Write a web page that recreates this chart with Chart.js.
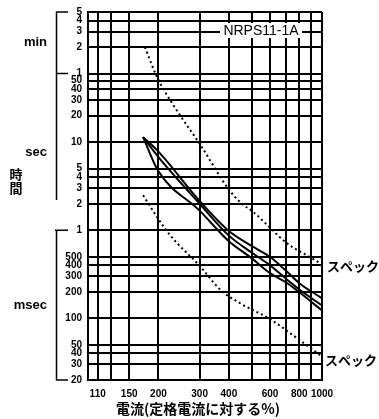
<!DOCTYPE html>
<html>
<head>
<meta charset="utf-8">
<script src="https://cdn.jsdelivr.net/npm/chart.js@4/dist/chart.umd.min.js"></script>
<style>
  html, body { margin: 0; padding: 0; background: #fff; }
  #wrap { width: 379px; height: 419px; }
</style>
</head>
<body>
<div id="wrap"><canvas id="trip"></canvas></div>
<script>
// current, % of rated current
var bandX      = [172, 200, 300, 400, 500, 600, 700, 800, 1000];
// operating time, ms
var bandUpper  = [11400, 7800, 2150, 980, 665, 497, 350, 251, 169];
var bandMiddle = [11400, 6760, 2000, 870, 560, 400, 283, 213, 140];
var bandLower  = [11400, 4670, 1670, 750, 483, 326, 257, 198, 123];

// spec limits (dotted)
var specHighX = [175, 197, 210, 248, 300, 400, 450, 510, 710, 920, 970];
var specHighY = [120000, 55000, 40000, 20000, 9600, 2900, 2050, 1600, 710, 470, 430];
var specLowX  = [172, 200, 225, 300, 370, 450, 600, 780, 985];
var specLowY  = [2500, 1340, 870, 395, 208, 147, 98, 60, 38];

var xTicks  = [110, 125, 150, 200, 300, 400, 500, 600, 700, 800, 900, 1000];
var xLabels = ['110', '', '150', '200', '300', '400', '', '600', '', '800', '', '1000'];

var yTicks  = [20, 30, 40, 50, 100, 200, 300, 400, 500,
               1000, 2000, 3000, 4000, 5000, 10000, 20000, 30000, 40000, 50000,
               60000, 120000, 180000, 240000, 300000];
var yLabels = ['20', '30', '40', '50', '100', '200', '300', '400', '500',
               '1', '2', '3', '4', '5', '10', '20', '30', '40', '50',
               '1', '2', '3', '4', '5'];

var pts = function(xs, ys) {
  return xs.map(function(x, i) { return {x: x, y: ys[i]}; });
};

var tickFont = {family: "'Liberation Sans', Arial, sans-serif", weight: 'bold', size: 10};

var solid = function(data) {
  return {data: data, borderColor: '#000', borderWidth: 2, pointRadius: 0, fill: false,
          cubicInterpolationMode: 'monotone'};
};
var dotted = function(data) {
  return {data: data, borderColor: '#000', borderWidth: 2, borderDash: [2, 3], pointRadius: 0, fill: false,
          cubicInterpolationMode: 'monotone'};
};

// bracket, unit names, titles and the model tag
var decor = {
  id: 'decor',
  afterDraw: function(chart) {
    var c = chart.ctx, ys = chart.scales.y, a = chart.chartArea;
    var top = ys.getPixelForValue(300000), minSec = ys.getPixelForValue(60000);
    var secMs = ys.getPixelForValue(1000), bot = ys.getPixelForValue(20);
    c.save();
    c.strokeStyle = '#000';
    c.lineWidth = 1.5;
    c.beginPath();
    c.moveTo(68, top); c.lineTo(56.5, top); c.lineTo(56.5, 200);
    c.moveTo(56.5, secMs); c.lineTo(56.5, bot); c.lineTo(68, bot);
    c.moveTo(56.5, minSec); c.lineTo(68, minSec);
    c.moveTo(55, secMs); c.lineTo(68, secMs);
    c.stroke();

    c.fillStyle = '#000';
    c.font = "bold 13px 'Liberation Sans', Arial, sans-serif";
    c.textAlign = 'right';
    c.textBaseline = 'middle';
    c.fillText('min', 47, (top + minSec) / 2);
    c.fillText('sec', 47, (minSec + secMs) / 2);
    c.fillText('msec', 47, (secMs + bot) / 2);

    c.textAlign = 'center';
    c.font = "bold 13px 'Noto Sans CJK JP', sans-serif";
    c.fillText('時', 16, 174);
    c.fillText('間', 16, 188);

    c.font = "bold 14px 'Noto Sans CJK JP', sans-serif";
    c.fillText('電流(定格電流に対する%)', 198, 409);

    c.fillStyle = '#fff';
    c.fillRect(220, 23, 82, 15);
    c.fillStyle = '#000';
    c.font = "14px 'Liberation Sans', Arial, sans-serif";
    c.fillText('NRPS11-1A', 261, 31);

    c.textAlign = 'left';
    c.font = "bold 13px 'Noto Sans CJK JP', sans-serif";
    c.fillText('スペック', a.right + 5, ys.getPixelForValue(specHighY[specHighY.length - 1]) + 3);
    c.fillText('スペック', a.right + 3, ys.getPixelForValue(specLowY[specLowY.length - 1]) + 5);
    c.restore();
  }
};

var ctx = document.getElementById('trip').getContext('2d');
new Chart(ctx, {
  type: 'line',
  data: {
    datasets: [
      solid(pts(bandX, bandUpper)),
      solid(pts(bandX, bandMiddle)),
      solid(pts(bandX, bandLower)),
      dotted(pts(specHighX, specHighY)),
      dotted(pts(specLowX, specLowY))
    ]
  },
  options: {
    responsive: true,
    maintainAspectRatio: false,
    animation: false,
    layout: {padding: {left: 0, top: 11, right: 57, bottom: 0}},
    plugins: {legend: {display: false}, tooltip: {enabled: false}},
    scales: {
      x: {
        type: 'logarithmic',
        min: 100,
        max: 1000,
        afterBuildTicks: function(s) { s.ticks = xTicks.map(function(v) { return {value: v}; }); },
        afterFit: function(s) { s.height = 39; },
        grid: {color: '#000', lineWidth: 2, drawTicks: false},
        border: {color: '#000', width: 2},
        ticks: {
          autoSkip: false, maxRotation: 0, minRotation: 0, padding: 8, color: '#000', font: tickFont,
          callback: function(v) { return xLabels[xTicks.indexOf(v)]; }
        }
      },
      y: {
        type: 'logarithmic',
        min: 20,
        max: 300000,
        afterBuildTicks: function(s) { s.ticks = yTicks.map(function(v) { return {value: v}; }); },
        afterFit: function(s) { s.width = 88; },
        grid: {color: '#000', lineWidth: 2, drawTicks: false},
        border: {color: '#000', width: 2},
        ticks: {
          autoSkip: false, padding: 6, color: '#000', font: tickFont,
          callback: function(v) { return yLabels[yTicks.indexOf(v)]; }
        }
      }
    }
  },
  plugins: [decor]
});
</script>
</body>
</html>
